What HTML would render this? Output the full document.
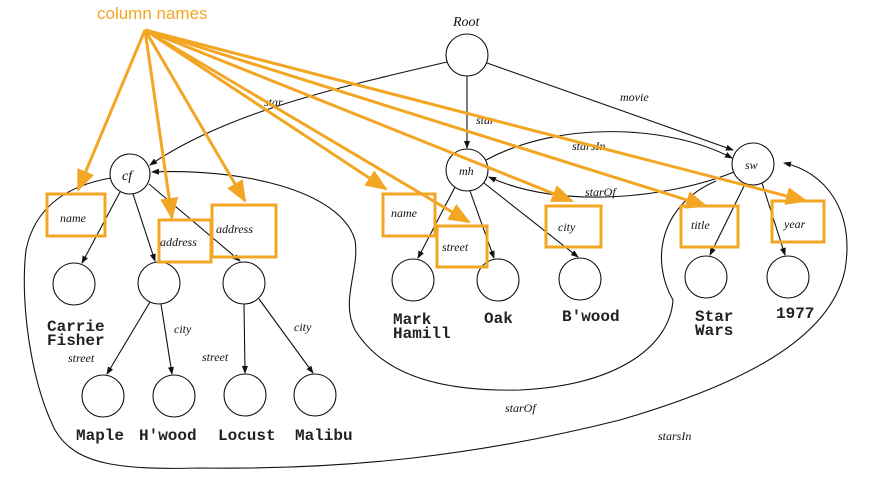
<!DOCTYPE html>
<html><head><style>
html,body{margin:0;padding:0;background:#fff;}
svg{display:block;}
.it{font-family:"Liberation Serif",serif;font-style:italic;font-size:12px;fill:#111;}
.mo{font-family:"Liberation Mono",monospace;font-size:16px;font-weight:bold;fill:#222;}
</style></head><body>
<svg width="871" height="484" viewBox="0 0 871 484" xmlns="http://www.w3.org/2000/svg">
<defs>
<marker id="a" markerWidth="8" markerHeight="8" refX="7" refY="4" orient="auto" markerUnits="userSpaceOnUse"><path d="M0,1 L8,4 L0,7z" fill="#111"/></marker>
<marker id="o" markerWidth="22" markerHeight="18" refX="20" refY="9" orient="auto" markerUnits="userSpaceOnUse"><path d="M0,0 L22,9 L0,18z" fill="#f2a623"/></marker>
</defs>
<g fill="none" stroke="#111" stroke-width="1.1">
<path d="M111,178 C70,185 35,205 26,250 C20,300 30,380 55,430 C75,465 120,470 200,468 C350,470 480,455 620,420 C740,385 830,340 845,270 C855,210 825,172 784,163" marker-end="url(#a)"/>
<path d="M716,181 C660,205 650,260 673,300 C670,345 620,385 520,390 C430,392 380,370 355,330 C340,300 360,270 355,240 C340,190 240,168 152,172" marker-end="url(#a)"/>
<path d="M447,62 C350,85 230,110 150,165" marker-end="url(#a)"/>
<line x1="467" y1="76" x2="467" y2="148" marker-end="url(#a)"/>
<line x1="487" y1="63" x2="733" y2="150" marker-end="url(#a)"/>
<path d="M486,160 C560,120 670,125 732,158" marker-end="url(#a)"/>
<path d="M734,172 C670,198 560,210 489,177" marker-end="url(#a)"/>
<line x1="120" y1="192" x2="82" y2="263" marker-end="url(#a)"/>
<line x1="133" y1="194" x2="155" y2="261" marker-end="url(#a)"/>
<line x1="149" y1="184" x2="240" y2="261" marker-end="url(#a)"/>
<line x1="455" y1="187" x2="418" y2="258" marker-end="url(#a)"/>
<line x1="470" y1="191" x2="494" y2="258" marker-end="url(#a)"/>
<line x1="484" y1="183" x2="578" y2="257" marker-end="url(#a)"/>
<line x1="745" y1="184" x2="710" y2="255" marker-end="url(#a)"/>
<line x1="762" y1="183" x2="785" y2="255" marker-end="url(#a)"/>
<line x1="150" y1="302" x2="107" y2="374" marker-end="url(#a)"/>
<line x1="161" y1="304" x2="172" y2="374" marker-end="url(#a)"/>
<line x1="244" y1="304" x2="245" y2="373" marker-end="url(#a)"/>
<line x1="259" y1="299" x2="313" y2="373" marker-end="url(#a)"/>
<circle cx="467" cy="55" r="21"/>
<circle cx="130" cy="174" r="20"/>
<circle cx="467" cy="170" r="21"/>
<circle cx="753" cy="164" r="21"/>
<circle cx="74" cy="284" r="21"/>
<circle cx="159" cy="283" r="21"/>
<circle cx="244" cy="283" r="21"/>
<circle cx="103" cy="396" r="21"/>
<circle cx="174" cy="396" r="21"/>
<circle cx="245" cy="395" r="21"/>
<circle cx="315" cy="395" r="21"/>
<circle cx="413" cy="280" r="21"/>
<circle cx="498" cy="280" r="21"/>
<circle cx="580" cy="279" r="21"/>
<circle cx="706" cy="277" r="21"/>
<circle cx="788" cy="277" r="21"/>
</g>
<g class="it">
<text x="453" y="26" font-size="14">Root</text>
<text x="122" y="180" font-size="14">cf</text>
<text x="459" y="175">mh</text>
<text x="745" y="169">sw</text>
<text x="264" y="106">star</text>
<text x="476" y="124">star</text>
<text x="620" y="101">movie</text>
<text x="572" y="150">starsIn</text>
<text x="585" y="196">starOf</text>
<text x="174" y="333">city</text>
<text x="294" y="331">city</text>
<text x="68" y="362">street</text>
<text x="202" y="361">street</text>
<text x="505" y="412">starOf</text>
<text x="658" y="440">starsIn</text>
<text x="60" y="222">name</text>
<text x="160" y="246">address</text>
<text x="216" y="233">address</text>
<text x="391" y="217">name</text>
<text x="442" y="251">street</text>
<text x="558" y="231">city</text>
<text x="691" y="229">title</text>
<text x="784" y="228">year</text>
</g>
<g class="mo">
<text x="47" y="331">Carrie</text><text x="47" y="345">Fisher</text>
<text x="76" y="440">Maple</text>
<text x="139" y="440">H'wood</text>
<text x="218" y="440">Locust</text>
<text x="295" y="440">Malibu</text>
<text x="393" y="324">Mark</text><text x="393" y="338">Hamill</text>
<text x="484" y="323">Oak</text>
<text x="562" y="321">B'wood</text>
<text x="695" y="321">Star</text><text x="695" y="335">Wars</text>
<text x="776" y="318">1977</text>
</g>
<g fill="none" stroke="#f2a623" stroke-width="3">
<rect x="47" y="194" width="58" height="42"/>
<rect x="159" y="220" width="52" height="42"/>
<rect x="212" y="205" width="64" height="52"/>
<rect x="383" y="194" width="52" height="42"/>
<rect x="437" y="226" width="50" height="41"/>
<rect x="546" y="206" width="55" height="41"/>
<rect x="681" y="206" width="57" height="41"/>
<rect x="772" y="201" width="52" height="41"/>
<line x1="145" y1="30" x2="78" y2="190" marker-end="url(#o)"/>
<line x1="145" y1="30" x2="172" y2="218" marker-end="url(#o)"/>
<line x1="145" y1="30" x2="245" y2="201" marker-end="url(#o)"/>
<line x1="145" y1="30" x2="386" y2="189" marker-end="url(#o)"/>
<line x1="145" y1="30" x2="469" y2="222" marker-end="url(#o)"/>
<line x1="145" y1="30" x2="572" y2="201" marker-end="url(#o)"/>
<line x1="145" y1="30" x2="706" y2="206" marker-end="url(#o)"/>
<line x1="145" y1="30" x2="806" y2="201" marker-end="url(#o)"/>
</g>
<text x="97" y="19" font-family="Liberation Sans,sans-serif" font-size="17" fill="#f2a623">column names</text>
</svg>
</body></html>
